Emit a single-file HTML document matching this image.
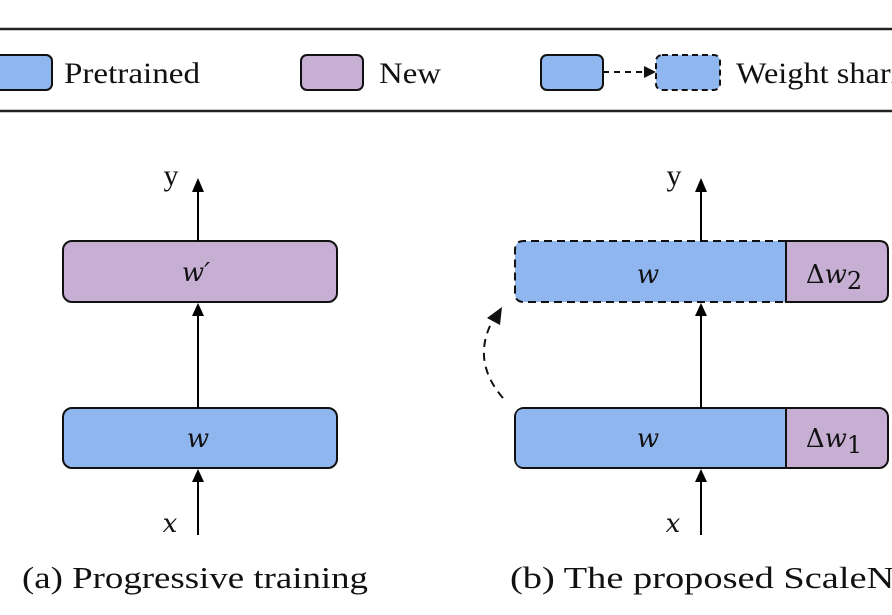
<!DOCTYPE html>
<html><head><style>html,body{margin:0;padding:0;background:#fff;overflow:hidden}svg{display:block}</style></head>
<body>
<svg width="892" height="615" viewBox="0 0 892 615" xmlns="http://www.w3.org/2000/svg">
<rect width="892" height="615" fill="#fff"/>
<line x1="0" y1="29" x2="892" y2="29" stroke="#222" stroke-width="2.5"/>
<line x1="0" y1="111" x2="892" y2="111" stroke="#222" stroke-width="2.5"/>
<g style="font-family:'Liberation Serif',serif" font-size="30" fill="#111">
<rect x="-12" y="55" width="64" height="35" rx="6" fill="#8fb6ef" stroke="#111" stroke-width="2"/>
<text x="64" y="83" textLength="136" lengthAdjust="spacingAndGlyphs">Pretrained</text>
<rect x="301" y="55" width="62" height="35" rx="6" fill="#c7aed3" stroke="#111" stroke-width="2"/>
<text x="379" y="83" textLength="62" lengthAdjust="spacingAndGlyphs">New</text>
<rect x="541" y="55" width="62" height="35" rx="6" fill="#8fb6ef" stroke="#111" stroke-width="2"/>
<line x1="603" y1="72" x2="646" y2="72" stroke="#111" stroke-width="2" stroke-dasharray="6,5"/>
<path d="M644,66 L656,72 L644,78 Z" fill="#111"/>
<rect x="656" y="55" width="64" height="35" rx="6" fill="#8fb6ef" stroke="#111" stroke-width="2" stroke-dasharray="6,4"/>
<text x="736" y="83" textLength="196" lengthAdjust="spacingAndGlyphs">Weight sharing</text>
</g>
<rect x="63" y="241" width="274" height="61" rx="9" fill="#c7aed3" stroke="#111" stroke-width="2"/>
<rect x="63" y="408" width="274" height="60" rx="9" fill="#8fb6ef" stroke="#111" stroke-width="2"/>
<!-- (b) top -->
<path d="M786,241 H524 Q515,241 515,250 V293 Q515,302 524,302 H786 Z" fill="#8fb6ef"/>
<path d="M786,241 H524 Q515,241 515,250 V293 Q515,302 524,302 H786" fill="none" stroke="#111" stroke-width="2" stroke-dasharray="8,5"/>
<path d="M786,241 H879 Q888,241 888,250 V293 Q888,302 879,302 H786 Z" fill="#c7aed3" stroke="#111" stroke-width="2"/>
<!-- (b) bottom -->
<rect x="515" y="408" width="373" height="60" rx="9" fill="#c7aed3" stroke="#111" stroke-width="2"/>
<path d="M524,409 H786 V467 H524 Q516,467 516,459 V417 Q516,409 524,409 Z" fill="#8fb6ef"/>
<line x1="786" y1="408" x2="786" y2="468" stroke="#111" stroke-width="2"/>
<g stroke="#000" stroke-width="2">
<line x1="198" y1="535" x2="198" y2="480"/>
<line x1="198" y1="408" x2="198" y2="314"/>
<line x1="198" y1="241" x2="198" y2="190"/>
<line x1="701" y1="535" x2="701" y2="480"/>
<line x1="701" y1="408" x2="701" y2="314"/>
<line x1="701" y1="241" x2="701" y2="190"/>
</g>
<g fill="#000">
<path d="M192,482 L198,469 L204,482 Z"/>
<path d="M192,316 L198,303 L204,316 Z"/>
<path d="M192,192 L198,178 L204,192 Z"/>
<path d="M695,482 L701,469 L707,482 Z"/>
<path d="M695,316 L701,303 L707,316 Z"/>
<path d="M695,192 L701,178 L707,192 Z"/>
</g>
<path d="M503,398 Q470,360 494,318" fill="none" stroke="#111" stroke-width="2" stroke-dasharray="8,6"/>
<path d="M487,318 L502,307 L500,325 Z" fill="#111"/>
<g style="font-family:'DejaVu Serif','Liberation Serif',serif" font-style="italic" font-size="26" fill="#111" text-anchor="middle">
<text x="196" y="281">w′</text>
<text x="198" y="447">w</text>
<text x="648" y="283">w</text>
<text x="648" y="447">w</text>
<text x="834" y="283"><tspan font-style="normal">Δ</tspan>w<tspan font-style="normal" font-size="24" dy="6">2</tspan></text>
<text x="834" y="447"><tspan font-style="normal">Δ</tspan>w<tspan font-style="normal" font-size="24" dy="6">1</tspan></text>
<text x="170" y="532">x</text>
<text x="673" y="532">x</text>
</g>
<g style="font-family:'Liberation Serif',serif" font-size="30" fill="#111" text-anchor="middle">
<text x="171" y="185">y</text>
<text x="674" y="185">y</text>
</g>
<g style="font-family:'Liberation Serif',serif" font-size="31" fill="#111">
<text x="22" y="588" textLength="346" lengthAdjust="spacingAndGlyphs">(a) Progressive training</text>
<text x="510" y="588" textLength="412" lengthAdjust="spacingAndGlyphs">(b) The proposed ScaleNet</text>
</g>
</svg>
</body></html>
